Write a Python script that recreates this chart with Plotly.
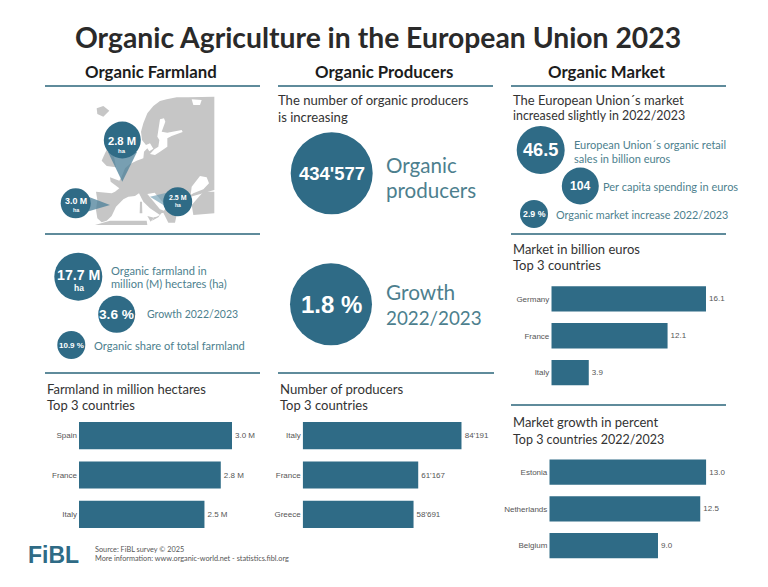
import plotly.graph_objects as go

# ---- data ----
farmland_countries = ["Spain", "France", "Italy"]
farmland_values = [3.0, 2.78, 2.46]
farmland_labels = ["3.0 M", "2.8 M", "2.5 M"]

producer_countries = ["Italy", "France", "Greece"]
producer_values = [84191, 61167, 58691]
producer_labels = ["84'191", "61'167", "58'691"]

market_countries = ["Germany", "France", "Italy"]
market_values = [16.1, 12.1, 3.9]
market_labels = ["16.1", "12.1", "3.9"]

growth_countries = ["Estonia", "Netherlands", "Belgium"]
growth_values = [13.0, 12.5, 9.0]
growth_labels = ["13.0", "12.5", "9.0"]

W, H = 768, 587
BLUE = "#2f6b86"
RULE = "#5f8b9b"
TEAL = "#4d7f8e"
SANS = "Liberation Sans"
GILL = "Lato"
px = lambda x: x / W
py = lambda y: 1 - y / H

fig = go.Figure()
shapes, annos = [], []


def text(x, y, s, size, color="#2e2e2e", anchor="left", family=GILL, bold=False):
    annos.append(dict(x=px(x), y=py(y), xref="paper", yref="paper", text=f"<b>{s}</b>" if bold else s,
                      showarrow=False, xanchor=anchor, yanchor="middle",
                      font=dict(size=size, color=color, family=family), borderpad=0, borderwidth=0))


def circle(cx, cy, r):
    shapes.append(dict(type="circle", xref="paper", yref="paper", x0=px(cx - r), x1=px(cx + r),
                       y0=py(cy + r), y1=py(cy - r), fillcolor=BLUE, line=dict(width=0), layer="above"))


def rule(x0, x1, y):
    shapes.append(dict(type="line", xref="paper", yref="paper", x0=px(x0), x1=px(x1), y0=py(y), y1=py(y),
                       line=dict(color=RULE, width=1.8)))


def poly(points, color, opacity=1.0, layer="below"):
    d = "M " + " L ".join(f"{px(x):.5f},{py(y):.5f}" for x, y in points) + " Z"
    shapes.append(dict(type="path", xref="paper", yref="paper", path=d, fillcolor=color,
                       line=dict(width=0), opacity=opacity, layer=layer))


def map_poly(points, color):
    poly([(60 + a / 3, 90 + b / 3) for a, b in points], color)


# ---- bars ----
panels = [
    (farmland_countries, farmland_values, farmland_labels, 79, 232, 415.8, 534.2),
    (producer_countries, producer_values, producer_labels, 302.7, 461.7, 415.8, 534.2),
    (market_countries, market_values, market_labels, 551.3, 706, 280.5, 391),
    (growth_countries, growth_values, growth_labels, 549.3, 706.3, 453.8, 564),
]
layout_axes = {}
for i, (cats, vals, labels, x0, x1, y0, y1) in enumerate(panels, start=1):
    fig.add_trace(go.Bar(x=vals, y=cats, orientation="h", text=labels, textposition="outside",
                         cliponaxis=False, constraintext="none", width=0.69,
                         marker=dict(color=BLUE, line=dict(width=0)),
                         textfont=dict(size=8, color="#555555", family=SANS),
                         xaxis=f"x{i}", yaxis=f"y{i}", showlegend=False, hoverinfo="skip"))
    layout_axes[f"xaxis{i}"] = dict(domain=[px(x0), px(x1)], range=[0, max(vals)], visible=False,
                                    anchor=f"y{i}", fixedrange=True)
    layout_axes[f"yaxis{i}"] = dict(domain=[py(y1), py(y0)], anchor=f"x{i}", autorange="reversed",
                                    type="category", showgrid=False, showline=False, zeroline=False,
                                    ticks="", ticklabelstandoff=1,
                                    tickfont=dict(size=8, color="#555555", family=SANS),
                                    fixedrange=True)

# ---- map (decorative backdrop) ----
GRAY = "#c6c6c6"
map_poly([(463, 20), (385, 22), (350, 22), (320, 28), (300, 33), (280, 48), (262, 70), (250, 100), (243, 125),
          (246, 150), (258, 165), (270, 160), (280, 176), (268, 184), (262, 175), (252, 185), (250, 205),
          (230, 212), (210, 222), (195, 235), (185, 260), (178, 272), (150, 262), (152, 275), (178, 295),
          (165, 305), (155, 310), (108, 305), (112, 330), (108, 360), (112, 385), (125, 397), (140, 392),
          (155, 378), (168, 350), (190, 328), (205, 320), (225, 318), (237, 310), (250, 335), (270, 355),
          (290, 368), (300, 375), (290, 380), (282, 382), (276, 392), (295, 382), (304, 370), (310, 368),
          (325, 398), (345, 398), (350, 375), (360, 365), (385, 345), (392, 320), (463, 300)], GRAY)
map_poly([(395, 345), (430, 305), (463, 305), (463, 370), (400, 375)], GRAY)
map_poly([(125, 212), (135, 190), (148, 165), (160, 190), (168, 232), (140, 228)], GRAY)
map_poly([(110, 55), (130, 48), (148, 62), (130, 80), (112, 72)], GRAY)
map_poly([(105, 405), (150, 392), (260, 392), (262, 405)], GRAY)
map_poly([(240, 335), (246, 335), (247, 370), (239, 370)], GRAY)
map_poly([(262, 378), (282, 383), (272, 395)], GRAY)
# seas
SEA = "white"
map_poly([(300, 88), (312, 85), (316, 95), (305, 125), (322, 128), (365, 120), (368, 126), (335, 138), (322, 145),
          (322, 170), (300, 185), (285, 195), (270, 192), (283, 178), (295, 170), (298, 150), (292, 140)], SEA)
map_poly([(395, 28), (425, 30), (420, 45), (400, 45)], SEA)
map_poly([(392, 315), (395, 290), (420, 258), (440, 262), (447, 280), (430, 298), (400, 310)], SEA)
map_poly([(262, 312), (284, 308), (320, 350), (312, 362), (300, 358)], SEA)

# callout wedges
poly([(108, 152), (137, 152), (122.3, 181.7)], "#4b7f98", 0.75, "above")
poly([(76, 192), (76, 215), (110, 205)], "#4b7f98", 0.75, "above")
poly([(178, 190), (178, 214), (150, 196.7)], "#6e9cb2", 0.65, "above")

# ---- circles ----
for c in [(122.3, 140, 18.5), (75.7, 203.3, 15), (177.7, 201.7, 14.5),
          (78.3, 276.7, 24), (116.7, 314.3, 18.5), (71.3, 345, 14),
          (331.7, 173.3, 41), (331, 304.3, 41),
          (540.7, 150, 24), (580.3, 186, 18.5), (534, 214, 14)]:
    circle(*c)

# ---- rules ----
for r in [(45, 260, 86), (45, 260, 234), (45, 260, 373), (278, 493, 86), (278, 494, 373),
          (511, 726, 86), (511, 726, 234), (511, 726, 405)]:
    rule(*r)

# ---- text ----
text(378, 37, "Organic Agriculture in the European Union 2023", 28.3, "#2a2a2a", "center", bold=True)
text(151, 72, "Organic Farmland", 16.8, "#1c1c1c", "center", bold=True)
text(384, 72, "Organic Producers", 16.8, "#1c1c1c", "center", bold=True)
text(607, 72, "Organic Market", 16.8, "#1c1c1c", "center", bold=True)

W_ = "white"
for x, y, s, size in [(122.3, 141, "2.8 M", 11.2), (76, 201, "3.0 M", 8.9), (178, 197.5, "2.5 M", 7),
                      (78.5, 274.5, "17.7 M", 14.2), (116.7, 314, "3.6 %", 13.7), (71.3, 345, "10.9 %", 8),
                      (331.7, 173, "434'577", 18.5), (331, 304, "1.8 %", 24),
                      (540.7, 150, "46.5", 18.2), (580.3, 186, "104", 12.2), (534, 214, "2.9 %", 8.8)]:
    text(x, y, s, size, W_, "center", SANS, True)
for x, y, size in [(122.3, 151, 6), (76, 210, 5.5), (178, 205, 5), (78.5, 288, 8.5)]:
    text(x, y, "ha", size, W_, "center", SANS, True)

for x, y, s, size in [(111, 270, "Organic farmland in", 11.1), (111, 284, "million (M) hectares (ha)", 11.1),
                      (146.5, 314, "Growth 2022/2023", 10.5), (93.5, 345, "Organic share of total farmland", 11.1),
                      (386, 165, "Organic", 20.6), (386, 190, "producers", 20.6),
                      (386, 292, "Growth", 20.8), (386, 317, "2022/2023", 18.8),
                      (574, 144.5, "European Union´s organic retail", 11), (574, 158.5, "sales in billion euros", 11),
                      (603, 186, "Per capita spending in euros", 11),
                      (556, 215, "Organic market increase 2022/2023", 10.8)]:
    text(x, y, s, size, TEAL)

for x, y, s, size in [(278, 100, "The number of organic producers", 13.1), (278, 117, "is increasing", 13.1),
                      (513, 100, "The European Union´s market", 13), (513, 116, "increased slightly in 2022/2023", 12.4),
                      (513, 249, "Market in billion euros", 13), (513, 265, "Top 3 countries", 13),
                      (513, 422, "Market growth in percent", 13), (513, 439, "Top 3 countries 2022/2023", 12.5),
                      (47, 389, "Farmland in million hectares", 13), (47, 405, "Top 3 countries", 13),
                      (280, 389, "Number of producers", 13.2), (280, 405, "Top 3 countries", 13)]:
    text(x, y, s, size, "#333333")

text(95, 549, "Source: FiBL survey © 2025", 7.3, "#555555")
text(95, 558, "More information: www.organic-world.net - statistics.fibl.org", 7.3, "#555555")
text(28, 555, "FiBL", 23, BLUE, "left", SANS, True)

fig.update_layout(width=W, height=H, margin=dict(l=0, r=0, t=0, b=0), paper_bgcolor="white",
                  plot_bgcolor="white", shapes=shapes, annotations=annos, showlegend=False,
                  **layout_axes)
fig.write_html("out.html", config={"displayModeBar": False},
               post_script="document.body.style.margin='0';")
